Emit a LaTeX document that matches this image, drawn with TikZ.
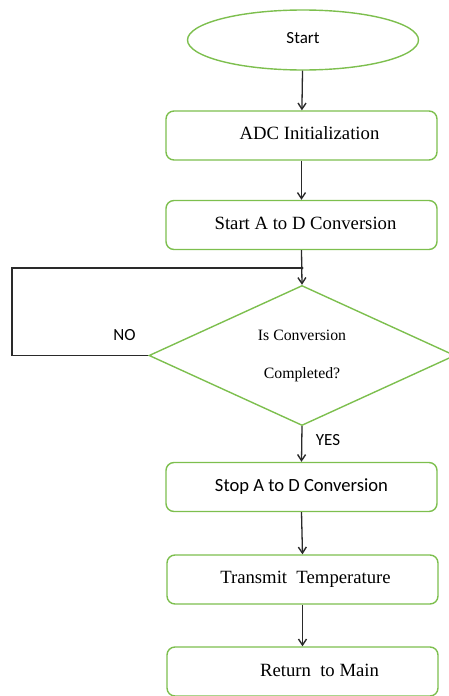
\documentclass[tikz,border=0pt]{standalone}
\usepackage{fontspec}
\setmainfont{Liberation Serif}
\newfontfamily\calib{Carlito}
\usetikzlibrary{shapes.geometric,arrows.meta}
\definecolor{boxgreen}{HTML}{7DBF4E}
\definecolor{linegray}{HTML}{2A2A2A}
\newcommand{\shiftedtext}[3]{\hspace*{#1}\raisebox{#2}{#3}}
\tikzset{
  procbox/.style={draw=boxgreen, line width=1.4pt, rounded corners=8pt, minimum width=271pt, minimum height=49pt, inner sep=0pt, font=\fontsize{18.7}{20}\selectfont},
  conn/.style={draw=linegray, line width=1.3pt, -{Straight Barb[length=6pt,width=8pt,line width=1.4pt]}},
  plain/.style={draw=linegray, line width=1.3pt},
  lbl/.style={font=\calib\fontsize{17}{19}\selectfont, inner sep=0pt}
}
\begin{document}
\begin{tikzpicture}[x=1pt,y=-1pt]
\useasboundingbox (0,0) rectangle (448,696);
\node[ellipse, draw=boxgreen, line width=1.4pt, minimum width=231pt, minimum height=60pt, inner sep=0pt, font=\calib\fontsize{17}{19}\selectfont] (start) at (303,40) {\raisebox{4pt}{Start}};
\node[procbox] (adc) at (301.5,135.5) {\shiftedtext{16pt}{4pt}{ADC Initialization}};
\node[procbox] (sad) at (301.5,225) {\shiftedtext{8pt}{4pt}{Start A to D Conversion}};
\node[diamond, draw=boxgreen, line width=1.4pt, minimum width=306pt, minimum height=135pt, inner sep=0pt, align=center, font=\fontsize{15.8}{38}\selectfont] (dec) at (302,355.5) {Is Conversion\\Completed?};
\node[procbox, font=\calib\fontsize{18.6}{20}\selectfont] (stop) at (301.5,487) {\shiftedtext{0pt}{3pt}{Stop A to D Conversion}};
\node[procbox] (tx) at (302.5,579.5) {\shiftedtext{6pt}{3pt}{Transmit\ \ Temperature}};
\node[procbox] (ret) at (302.5,671.5) {\shiftedtext{34pt}{2pt}{Return\ \ to Main}};
\coordinate (j) at (302,268);
\coordinate (lt) at (12,268);
\coordinate (lb) at (12,355.5);
\draw[conn] (start) -- (adc);
\draw[conn] (adc) -- (sad);
\draw[conn] (sad.south) -- (dec.north);
\draw[plain] (dec.west) -- (lb) -- (lt) -- (j);
\fill[linegray] (j) circle (1.6pt);
\draw[conn] (dec.south) -- (stop.north);
\draw[conn] (stop.south) -- (tx.north);
\draw[conn] (tx.south) -- (ret.north);
\node[lbl] (no) at (124.5,335) {NO};
\node[lbl] (yes) at (328,440) {YES};
\end{tikzpicture}
\end{document}
